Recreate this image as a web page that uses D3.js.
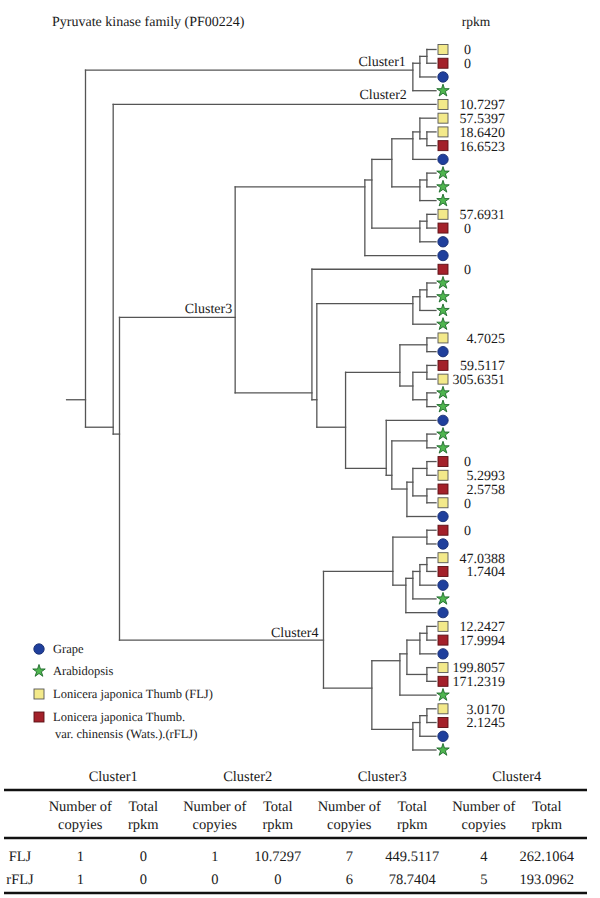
<!DOCTYPE html>
<html>
<head>
<meta charset="utf-8">
<script src="https://cdn.jsdelivr.net/npm/d3@7"></script>
<style>
  body { margin: 0; background: #fff; }
  svg text { text-rendering: geometricPrecision; }
</style>
</head>
<body>
<script>
// ---------------- DATA ----------------
const title = "Pyruvate kinase family (PF00224)";
const valueHeader = "rpkm";

// species of each leaf, top to bottom: G=Grape, A=Arabidopsis, F=FLJ, R=rFLJ
const leafSpecies = [
  "F","R","G","A",            // Cluster1
  "F",                        // Cluster2
  "F","F","R","G","A","A","A","F","R","G","G",       // Cluster3
  "R","A","A","A","A","F","G","R","F","A","A","G","A","A","R","F","R","F","G",
  "R","G","F","R","G","A","G","F","R","G","F","R","A","F","R","G","A" // Cluster4
];
// rpkm value per leaf as printed (null = no value shown)
const leafRpkm = [
  "0", "0", null, null,
  "10.7297",
  "57.5397", "18.6420", "16.6523", null, null, null, null, "57.6931", "0", null, null,
  "0", null, null, null, null, "4.7025", null, "59.5117", "305.6351", null, null, null, null, null, "0", "5.2993", "2.5758", "0", null,
  "0", null, "47.0388", "1.7404", null, null, null, "12.2427", "17.9994", null, "199.8057", "171.2319", null, "3.0170", "2.1245", null, null
];

// tree topology (leaf indices) with node depth (0 = root, 100 = tips)
const cluster1Tree = "(((0,1)97.4,2)95.4,3)93.4";
const cluster3Top = "((((5,(6,7)97.4)95.4,8)93.4,((9,10)97.4,11)95.4)87.4,((12,13)97.4,14)95.4)81.7";
const cluster3Bottom = "(16,((((17,18)97.4,19)95.4,20)93.4,(((21,22)97.4,((23,24)97.4,(25,26)97.4)93.4)89.7,(27,((28,29)97.4,(((30,31)97.4,(32,33)97.4)93.4,34)91.7)87.4)85.8)74.2)66.0)64.6";
const cluster3Tree = "((" + cluster3Top + ",15)79.7," + cluster3Bottom + ")42.7";
const cluster4Tree = "(((35,36)97.4,((((37,38)97.4,39)95.4,40)93.4,41)91.4)87.7,(((((42,43)97.4,44)95.4,(45,46)97.4)91.7,47)89.7,(((48,49)97.4,50)95.4,51)93.4)81.7)67.9";
const fullTree = "(" + cluster1Tree + ",(4,(" + cluster3Tree + "," + cluster4Tree + ")9.7)7.9)0";

const clusterNames = ["Cluster1", "Cluster2", "Cluster3", "Cluster4"];

const legendLabels = [
  ["Grape"],
  ["Arabidopsis"],
  ["Lonicera japonica Thumb (FLJ)"],
  ["Lonicera japonica Thumb.", "var. chinensis (Wats.).(rFLJ)"]
];
const legendSpecies = ["G", "A", "F", "R"];

// table
const tableRows = ["FLJ", "rFLJ"];
const tableCopies = [[1, 1, 7, 4], [1, 0, 6, 5]];
const tableTotal = [["0", "10.7297", "449.5117", "262.1064"], ["0", "0", "78.7404", "193.0962"]];
const subHeaders = [["Number of", "copyies"], ["Total", "rpkm"]];

// ---------------- STYLE ----------------
const colors = { G: "#1f3f9c", A: "#4fb54f", F: "#f3e98a", R: "#a3212a" };
const strokes = { G: "#1a2f70", A: "#1d6a2a", F: "#555", R: "#5a1015" };
const lineColor = "#555";
const textColor = "#1a1a1a";
const FONT = "'Liberation Serif', 'Times New Roman', serif";

// ---------------- PARSE ----------------
function parseTree(s) {
  s = s.replace(/\s/g, "");
  let i = 0;
  function node() {
    if (s[i] === "(") {
      i++;
      const ch = [node()];
      while (s[i] === ",") { i++; ch.push(node()); }
      i++; // ')'
      let num = "";
      while (i < s.length && /[0-9.]/.test(s[i])) num += s[i++];
      return { children: ch, depth: +num };
    } else {
      let num = "";
      while (/[0-9]/.test(s[i])) num += s[i++];
      return { leaf: +num, depth: 100 };
    }
  }
  return node();
}

const root = d3.hierarchy(parseTree(fullTree));

const W = 600, H = 898;
const svg = d3.select("body").append("svg").attr("width", W).attr("height", H)
  .attr("font-family", FONT);

const xScale = d3.scaleLinear().domain([0, 100]).range([85.5, 436]);
const yScale = d3.scaleLinear().domain([0, leafSpecies.length - 1]).range([49.5, 750]);

// positions: leaf by index, internal = mean of its leaves
root.eachAfter(n => {
  n.x = xScale(n.data.depth);
  if (!n.children) n.y = yScale(n.data.leaf);
  else n.y = d3.mean(n.leaves(), l => l.y);
});

const g = svg.append("g")
  .attr("stroke", lineColor).attr("stroke-width", 1.3).attr("fill", "none")
  .attr("stroke-linecap", "square");

// root stub
g.append("line").attr("x1", xScale(-5.4)).attr("x2", root.x).attr("y1", root.y).attr("y2", root.y);

root.each(n => {
  if (!n.children) return;
  const ys = n.children.map(c => c.y);
  g.append("line").attr("x1", n.x).attr("x2", n.x)
    .attr("y1", d3.min(ys)).attr("y2", d3.max(ys));
  n.children.forEach(c => {
    g.append("line").attr("x1", n.x).attr("x2", c.x).attr("y1", c.y).attr("y2", c.y);
  });
});

// symbols
function drawSymbol(sel, sp, x, y) {
  if (sp === "F" || sp === "R") {
    sel.append("rect").attr("x", x - 5).attr("y", y - 5).attr("width", 10).attr("height", 10)
      .attr("fill", colors[sp]).attr("stroke", strokes[sp]).attr("stroke-width", 0.9);
  } else {
    const type = sp === "G" ? d3.symbolCircle : d3.symbolStar;
    const size = sp === "G" ? 85 : 48;
    sel.append("path").attr("d", d3.symbol().type(type).size(size)())
      .attr("transform", `translate(${x},${y})`)
      .attr("fill", colors[sp]).attr("stroke", strokes[sp]).attr("stroke-width", 0.9);
  }
}

const leaves = root.leaves();
const symX = Math.round(xScale(100) + 7);
const symG = svg.append("g");
leaves.forEach(l => drawSymbol(symG, leafSpecies[l.data.leaf], symX, l.y));

// values
const valG = svg.append("g").attr("font-size", 14).attr("fill", textColor);
leaves.forEach(l => {
  const v = leafRpkm[l.data.leaf];
  if (v === null) return;
  const isZero = +v === 0;
  valG.append("text")
    .attr("x", isZero ? symX + 21 : symX + 62)
    .attr("y", l.y).attr("dy", "0.35em")
    .attr("fill", textColor)
    .attr("text-anchor", isZero ? "start" : "end")
    .text(v);
});

// title & header
svg.append("text").attr("x", 52).attr("y", 26).attr("font-size", 14).attr("fill", textColor).text(title);
svg.append("text").attr("x", symX + 33).attr("y", 26).attr("font-size", 13.5).attr("fill", textColor)
  .attr("text-anchor", "middle").text(valueHeader);

// cluster labels
const c1 = root.children[0];
const nodeB = root.children[1];
const c2 = nodeB.children[0];
const c3 = nodeB.children[1].children[0];
const c4 = nodeB.children[1].children[1];
const clusterAnchors = [
  [c1.x - 7, c1.y],
  [c1.x - 6, c2.y - 1],
  [c3.x - 3, c3.y],
  [c4.x - 5, c4.y + 1]
];
clusterNames.forEach((name, i) => {
  svg.append("text").attr("x", clusterAnchors[i][0]).attr("y", clusterAnchors[i][1] - 4)
    .attr("font-size", 14).attr("fill", textColor).attr("text-anchor", "end").text(name);
});

// legend
const legY = d3.scaleOrdinal().domain(legendSpecies).range([649, 671, 694, 717]);
const legG = svg.append("g");
legendSpecies.forEach((sp, i) => {
  const y = legY(sp);
  drawSymbol(legG, sp, 39, y);
  legendLabels[i].forEach((line, j) => {
    legG.append("text").attr("x", j === 0 ? 53 : 55).attr("y", y + j * 17).attr("dy", "0.35em")
      .attr("font-size", 12.5).attr("fill", textColor).text(line);
  });
});

// ---------------- TABLE ----------------
const tx = d3.scaleBand().domain(clusterNames).range([46, 584]);
const tG = svg.append("g").attr("font-size", 14.5).attr("fill", textColor);
const lineY = [790, 838, 893];
lineY.forEach(y => {
  tG.append("line").attr("x1", 4).attr("x2", 587).attr("y1", y).attr("y2", y)
    .attr("stroke", "#111").attr("stroke-width", 2.6);
});
function tText(x, y, s) {
  tG.append("text").attr("x", x).attr("y", y).attr("dy", "0.35em")
    .attr("text-anchor", "middle").attr("fill", textColor).text(s);
}
clusterNames.forEach((c, ci) => {
  const cx = tx(c) + tx.bandwidth() / 2;
  tText(cx, 776, c);
  const colX = [cx - 33, cx + 30];
  subHeaders.forEach((lines, k) => {
    lines.forEach((ln, j) => tText(colX[k], 806 + j * 17.5, ln));
  });
  tableRows.forEach((r, ri) => {
    const y = 856 + ri * 22.5;
    tText(colX[0], y, tableCopies[ri][ci]);
    tText(colX[1], y, tableTotal[ri][ci]);
  });
});
tableRows.forEach((r, ri) => tText(20, 856 + ri * 22.5, r));
</script>
</body>
</html>
